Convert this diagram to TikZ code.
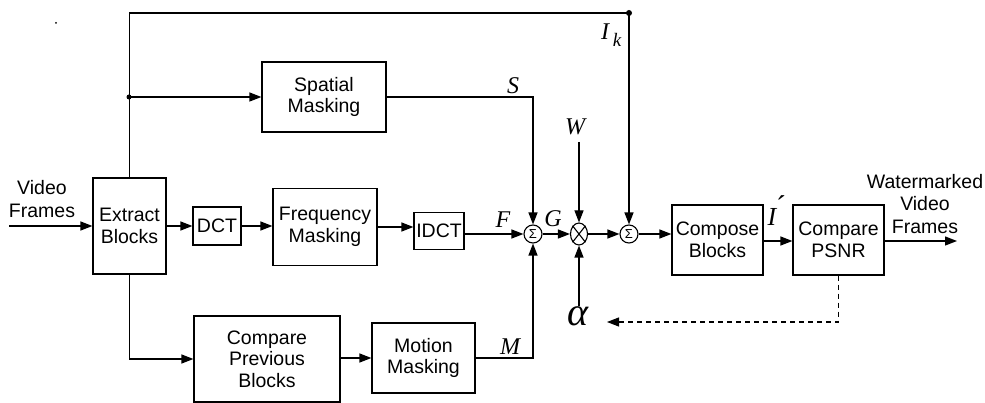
\documentclass[tikz,border=0pt]{standalone}
\usepackage{fontspec}
\setmainfont{Liberation Sans}
\newfontfamily\tms{Liberation Serif}
\usetikzlibrary{arrows.meta,shapes.geometric}
\begin{document}
\begin{tikzpicture}[x=1pt,y=-1pt,
  line width=1.3pt,
  blk/.style={draw, line width=1.2pt, inner sep=0pt, align=center,
    font=\fontsize{19.5}{21.5}\selectfont},
  arr/.style={-{Triangle[length=12pt,width=9pt]}},
  sumc/.style={draw, circle, minimum size=18pt, inner sep=0pt, line width=1.1pt,
    font=\fontsize{13}{13}\selectfont},
  lbl/.style={inner sep=0pt, font=\tms\itshape\fontsize{24}{24}\selectfont},
  txt/.style={inner sep=0pt, align=center, font=\fontsize{19.5}{22.5}\selectfont},
  jdot/.style={fill, circle, inner sep=0pt, minimum size=#1}
]
\useasboundingbox (0,0) rectangle (985,403);

% blocks
\node[blk, minimum width=73pt, minimum height=96pt] (ext) at (129.5,226) {Extract\\Blocks};
\node[blk, minimum width=124pt, minimum height=70pt] (spat) at (324,97) {Spatial\\Masking};
\node[blk, minimum width=48pt, minimum height=38pt] (dct) at (217,226) {DCT};
\node[blk, minimum width=104pt, minimum height=77pt] (freq) at (325,227) {Frequency\\Masking};
\node[blk, minimum width=50pt, minimum height=37pt] (idct) at (439,231) {IDCT};
\node[blk, minimum width=146pt, minimum height=86pt] (cpb) at (267,359) {Compare\\Previous\\Blocks};
\node[blk, minimum width=103pt, minimum height=70pt] (mot) at (423.5,358) {Motion\\Masking};
\node[blk, minimum width=91pt, minimum height=70pt] (comp) at (717.5,240) {Compose\\Blocks};
\node[blk, minimum width=91pt, minimum height=70pt] (psnr) at (838.5,240) {Compare\\PSNR};

% summing / multiplying junctions
\node[sumc] (s1) at (533,234) {Σ};
\node[draw, ellipse, minimum width=17pt, minimum height=22pt, inner sep=0pt, line width=1.1pt] (mul) at (579,234) {};
\draw[line width=1.1pt] (mul.north east) -- (mul.south west) (mul.north west) -- (mul.south east);
\node[sumc] (s3) at (629,234) {Σ};

% coordinates
\coordinate (vfin) at (9,226);
\coordinate (br1) at (129,97);
\coordinate (topc) at (629,13);
\coordinate (wtop) at (579,142);
\coordinate (dend) at (607,322);
\coordinate (outend) at (957,241);

% texts and labels
\node[txt] (vf) at (42,199) {Video\\Frames};
\node[txt] (wvf) at (925,204) {Watermarked\\Video\\Frames};
\node[lbl] (lS) at (513,86) {S};
\node[lbl] (lW) at (575,127) {W};
\node[lbl] (lI) at (605,32) {I};
\node[inner sep=0pt, font=\tms\itshape\fontsize{19}{19}\selectfont] (lk) at (617,40) {k};
\node[lbl] (lF) at (503,220) {F};
\node[lbl] (lG) at (553,219) {G};
\node[lbl] (lM) at (510,347) {M};
\node[inner sep=0pt, font=\tms\itshape\fontsize{40}{40}\selectfont] (alpha) at (578,316) {α};
\node[lbl, font=\tms\itshape\fontsize{26}{26}\selectfont] (lIp) at (772,217) {I};
\node[inner sep=0pt, font=\tms\fontsize{30}{30}\selectfont] (prime) at (781,206) {´};

% stray dot
\fill (56,23) circle (1pt);

% connectors
\draw[arr] (vfin) -- (ext.west);
\draw[arr] (ext.north) |- (topc) -- (s3.north);
\node[jdot=6pt] at (topc) {};
\node[jdot=5pt] at (br1) {};
\draw[arr] (br1) -- (br1 -| spat.west);
\draw[arr] (spat.east) -| (s1.north);
\draw[arr] (ext.east) -- (ext.east -| dct.west);
\draw[arr] (dct.east) -- (dct.east -| freq.west);
\draw[arr] (freq.east) -- (freq.east -| idct.west);
\draw[arr] (idct.east |- s1.west) -- (s1.west);
\draw[arr] (ext.south) |- (cpb.west);
\draw[arr] (cpb.east |- mot.west) -- (mot.west);
\draw[arr] (mot.east) -| (s1.south);
\draw[arr] (s1.east) -- (mul.west);
\draw[line width=1.1pt, arr] (wtop) -- (mul.north);
\draw[arr] (mul.south |- alpha.north) -- (mul.south);
\draw[arr] (mul.east) -- (s3.west);
\draw[arr] (s3.east) -- (s3.east -| comp.west);
\draw[arr] (comp.east |- outend) -- (outend -| psnr.west);
\draw[arr] (psnr.east |- outend) -- (outend);
\draw[arr, dashed, dash pattern=on 5pt off 4pt, line width=1.1pt] (psnr.south) |- (dend);
\end{tikzpicture}
\end{document}
